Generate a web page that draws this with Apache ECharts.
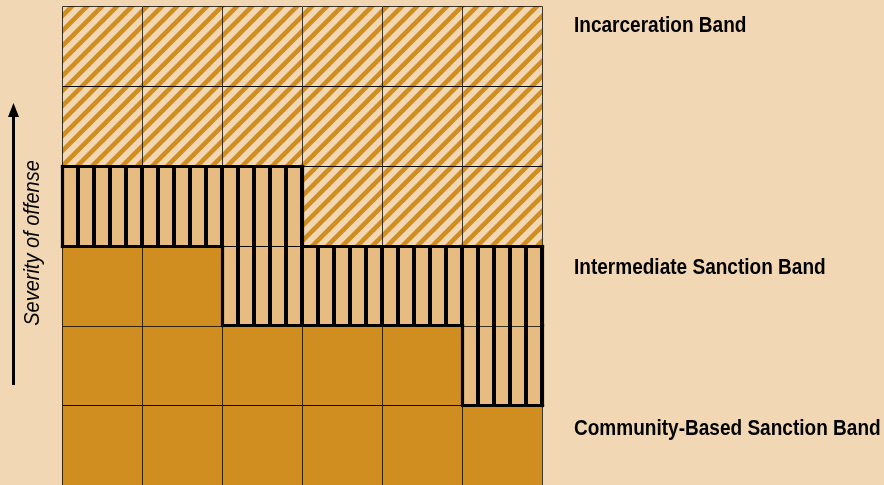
<!DOCTYPE html>
<html>
<head>
<meta charset="utf-8">
<script src="https://cdn.jsdelivr.net/npm/echarts@6/dist/echarts.min.js"></script>
<style>
html,body{margin:0;padding:0;background:#F1D7B3;}
#chart{width:884px;height:485px;}
</style>
</head>
<body>
<div id="chart"></div>
<script>
// ---- data ----
const historyCategories = ['I', 'II', 'III', 'IV', 'V', 'VI'];
const severityLevels = ['1', '2', '3', '4', '5', '6'];
const bandNames = ['Community-Based Sanction Band', 'Intermediate Sanction Band', 'Incarceration Band'];
const axisTitle = 'Severity of offense';
// band index per cell, from lowest severity (bottom) to highest (top)
const severity1 = [0, 0, 0, 0, 0, 0];
const severity2 = [0, 0, 0, 0, 0, 1];
const severity3 = [0, 0, 1, 1, 1, 1];
const severity4 = [1, 1, 1, 2, 2, 2];
const severity5 = [2, 2, 2, 2, 2, 2];
const severity6 = [2, 2, 2, 2, 2, 2];
const bandRows = [severity1, severity2, severity3, severity4, severity5, severity6];

// ---- styles ----
const BG = '#F1D7B3';
const ORANGE = '#D18E20';
const LIGHT = '#E8BB80';
const LABEL_FONT = '"Liberation Sans", Arial, sans-serif';

function makeVerticalTile() {
  const c = document.createElement('canvas');
  c.width = 16; c.height = 16;
  const g = c.getContext('2d');
  g.fillStyle = LIGHT; g.fillRect(0, 0, 16, 16);
  g.fillStyle = '#000'; g.fillRect(12, 0, 4, 16);
  return c;
}
function makeDiagonalTile() {
  const P = 15, w = 6.5;
  const c = document.createElement('canvas');
  c.width = P; c.height = P;
  const g = c.getContext('2d');
  g.fillStyle = BG; g.fillRect(0, 0, P, P);
  g.fillStyle = ORANGE;
  for (let k = -2 * P; k <= P; k += P) {
    g.beginPath();
    g.moveTo(k, P); g.lineTo(k + w, P); g.lineTo(k + w + P, 0); g.lineTo(k + P, 0);
    g.closePath(); g.fill();
  }
  return c;
}
const fills = [
  ORANGE,
  { image: makeVerticalTile(), repeat: 'repeat' },
  { image: makeDiagonalTile(), repeat: 'repeat' }
];

const cellData = [];
bandRows.forEach((row, yi) => row.forEach((band, xi) => cellData.push([xi, yi, band])));
const intermediateData = cellData.filter(d => d[2] === 1);

function bandAt(xi, yi) {
  if (yi < 0 || yi >= bandRows.length || xi < 0 || xi >= bandRows[yi].length) return -1;
  return bandRows[yi][xi];
}

function bandLabel(text, y) {
  return {
    type: 'text', x: 574, y: y, scaleX: 0.865,
    style: { text: text, fontFamily: LABEL_FONT, fontWeight: 'bold', fontSize: 22, fill: '#000', align: 'left', verticalAlign: 'middle' }
  };
}

const chart = echarts.init(document.getElementById('chart'));
chart.setOption({
  backgroundColor: BG,
  animation: false,
  grid: { left: 62, top: 6, width: 480, height: 480 },
  xAxis: {
    type: 'category', data: historyCategories,
    axisLine: { show: false }, axisTick: { show: false }, axisLabel: { show: false }, splitLine: { show: false }
  },
  yAxis: {
    type: 'category', data: severityLevels,
    axisLine: { show: false }, axisTick: { show: false }, axisLabel: { show: false }, splitLine: { show: false }
  },
  series: [
    {
      type: 'custom',
      data: cellData,
      z: 2,
      renderItem: function (params, api) {
        const c = api.coord([api.value(0), api.value(1)]);
        const s = api.size([1, 1]);
        const x = Math.round(c[0] - s[0] / 2), y = Math.round(c[1] - s[1] / 2);
        const w = Math.round(s[0]), h = Math.round(s[1]);
        return {
          type: 'group',
          children: [
            { type: 'rect', shape: { x: x, y: y, width: w, height: h }, style: { fill: fills[api.value(2)] } },
            { type: 'rect', shape: { x: x + 0.5, y: y + 0.5, width: w, height: h }, style: { fill: null, stroke: 'rgba(0,0,0,0.75)', lineWidth: 1 } }
          ]
        };
      }
    },
    {
      type: 'custom',
      data: intermediateData,
      z: 3,
      renderItem: function (params, api) {
        const xi = api.value(0), yi = api.value(1), band = api.value(2);
        const c = api.coord([xi, yi]);
        const s = api.size([1, 1]);
        const x0 = Math.round(c[0] - s[0] / 2) + 0.5, x1 = Math.round(c[0] + s[0] / 2) + 0.5;
        const yT = Math.round(c[1] - s[1] / 2) + 0.5, yB = Math.round(c[1] + s[1] / 2) + 0.5;
        const st = { stroke: '#000', lineWidth: 3.2, lineCap: 'square' };
        const kids = [];
        if (bandAt(xi, yi + 1) !== band) kids.push({ type: 'line', shape: { x1: x0, y1: yT, x2: x1, y2: yT }, style: st });
        if (bandAt(xi, yi - 1) !== band) kids.push({ type: 'line', shape: { x1: x0, y1: yB, x2: x1, y2: yB }, style: st });
        if (bandAt(xi - 1, yi) !== band) kids.push({ type: 'line', shape: { x1: x0, y1: yT, x2: x0, y2: yB }, style: st });
        if (bandAt(xi + 1, yi) !== band) kids.push({ type: 'line', shape: { x1: x1, y1: yT, x2: x1, y2: yB }, style: st });
        return { type: 'group', children: kids };
      }
    }
  ],
  graphic: [
    { type: 'line', shape: { x1: 13.5, y1: 385, x2: 13.5, y2: 112 }, style: { stroke: '#000', lineWidth: 3 } },
    { type: 'polygon', shape: { points: [[8, 117], [19, 117], [13.5, 103]] }, style: { fill: '#000' } },
    {
      type: 'text', x: 33.5, y: 243, rotation: Math.PI / 2, scaleX: 0.93,
      style: { text: axisTitle, fontFamily: LABEL_FONT, fontStyle: 'italic', fontSize: 21.5, fill: '#000', align: 'center', verticalAlign: 'middle' }
    },
    bandLabel(bandNames[2], 26),
    bandLabel(bandNames[1], 268),
    bandLabel(bandNames[0], 428.5)
  ]
});
</script>
</body>
</html>
